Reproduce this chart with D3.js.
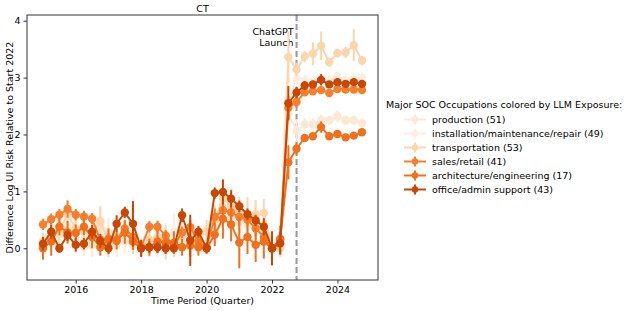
<!DOCTYPE html>
<html>
<head>
<meta charset="utf-8">
<script src="https://cdn.jsdelivr.net/npm/d3@7"></script>
<style>
  body { margin: 0; background: #fff; }
  text { font-family: "DejaVu Sans", sans-serif; fill: #000; }
</style>
</head>
<body>
<div id="chart"></div>
<script>
// quarters (decimal years)
var quarters = [2015, 2015.25, 2015.5, 2015.75, 2016, 2016.25, 2016.5, 2016.75,
  2017, 2017.25, 2017.5, 2017.75, 2018, 2018.25, 2018.5, 2018.75,
  2019, 2019.25, 2019.5, 2019.75, 2020, 2020.25, 2020.5, 2020.75,
  2021, 2021.25, 2021.5, 2021.75, 2022, 2022.25, 2022.5, 2022.75,
  2023, 2023.25, 2023.5, 2023.75, 2024, 2024.25, 2024.5, 2024.75]

var seriesNames = ["production (51)", "installation/maintenance/repair (49)", "transportation (53)",
  "sales/retail (41)", "architecture/engineering (17)", "office/admin support (43)"]
var seriesColors = ["#fde8d3", "#feeedf", "#fdd5ab", "#f67e2c", "#f2701c", "#c94603"]

var production = [0.0, 0.3, 0.25, 0.38, 0.3, 0.02, 0.05, 0.45, 0.28, 0.05, 0.12, 0.05, 0.0, 0.05, 0.1, 0.12,
  0.05, 0.15, 0.05, 0.1, 0.0, 0.3, 0.75, 0.55, 0.45, 0.5, 0.45, 0.3, 0.0, 0.0,
  2.37, 2.07, 2.18, 2.18, 2.25, 2.25, 2.32, 2.25, 2.25, 2.2]
var productionErr = [0.15, 0.25, 0.2, 0.2, 0.2, 0.15, 0.2, 0.3, 0.25, 0.2, 0.2, 0.15, 0.1, 0.2, 0.2, 0.25,
  0.2, 0.2, 0.2, 0.2, 0.1, 0.25, 0.3, 0.35, 0.3, 0.3, 0.3, 0.25, 0.15, 0.15,
  0.3, 0.2, 0.1, 0.1, 0.1, 0.08, 0.1, 0.08, 0.08, 0.08]

var installation = [0.1, 0.15, 0.4, 0.2, 0.1, 0.25, 0.15, 0.3, 0.05, 0.1, 0.2, 0.3, 0.0, 0.1, 0.05, 0.2,
  0.3, 0.1, 0.2, 0.15, 0.0, 0.4, 0.9, 0.7, 0.5, 0.4, 0.55, 0.4, 0.0, 0.05,
  2.6, 2.98, 2.95, 2.93, 2.98, 2.95, 3.02, 2.95, 2.97, 3.0]
var installationErr = [0.2, 0.2, 0.25, 0.2, 0.2, 0.25, 0.2, 0.3, 0.2, 0.2, 0.25, 0.3, 0.15, 0.2, 0.2, 0.25,
  0.3, 0.2, 0.2, 0.2, 0.1, 0.3, 0.3, 0.35, 0.3, 0.3, 0.3, 0.3, 0.2, 0.2,
  0.4, 0.12, 0.1, 0.1, 0.1, 0.1, 0.1, 0.1, 0.1, 0.1]

var transportation = [0.12, 0.22, 0.3, 0.6, 0.35, 0.32, 0.25, 0.48, 0.1, 0.2, 0.3, 0.1, 0.02, 0.15, 0.2, 0.1,
  0.05, 0.22, 0.3, 0.2, 0.3, 0.5, 0.88, 0.75, 0.6, 0.55, 0.6, 0.62, 0.0, 0.0,
  3.36, 3.14, 3.37, 3.42, 3.56, 3.27, 3.43, 3.44, 3.57, 3.30]
var transportationErr = [0.15, 0.2, 0.2, 0.25, 0.2, 0.2, 0.2, 0.25, 0.25, 0.2, 0.2, 0.2, 0.1, 0.25, 0.3, 0.3,
  0.2, 0.2, 0.2, 0.2, 0.2, 0.25, 0.25, 0.3, 0.3, 0.35, 0.25, 0.25, 0.15, 0.15,
  0.45, 0.12, 0.1, 0.2, 0.25, 0.08, 0.08, 0.1, 0.28, 0.08]

var salesRetail = [0.42, 0.51, 0.59, 0.69, 0.59, 0.56, 0.52, 0.15, 0.17, 0.15, 0.35, 0.2, 0.02, 0.38, 0.38, 0.22,
  0.05, 0.28, 0.37, 0.12, 0.02, 0.55, 0.67, 0.63, 0.55, 0.5, 0.35, 0.2, 0.0, 0.17,
  2.47, 2.57, 2.74, 2.76, 2.78, 2.73, 2.8, 2.79, 2.79, 2.78]
var salesRetailErr = [0.1, 0.1, 0.1, 0.15, 0.1, 0.1, 0.1, 0.1, 0.1, 0.1, 0.15, 0.1, 0.1, 0.1, 0.1, 0.1,
  0.1, 0.1, 0.12, 0.1, 0.08, 0.15, 0.15, 0.15, 0.15, 0.12, 0.15, 0.15, 0.1, 0.12,
  0.2, 0.1, 0.06, 0.06, 0.06, 0.06, 0.06, 0.06, 0.06, 0.06]

var architecture = [0.0, 0.12, 0.38, 0.28, 0.27, 0.38, 0.2, 0.02, 0.15, 0.13, 0.28, 0.12, 0.0, 0.02, 0.12, 0.1,
  0.1, 0.02, 0.05, 0.02, 0.0, 0.24, 0.52, 0.42, 0.1, 0.2, 0.06, 0.12, 0.0, 0.15,
  1.51, 1.75, 1.94, 1.97, 2.13, 1.97, 2.01, 1.95, 1.98, 2.04]
var architectureErr = [0.2, 0.25, 0.15, 0.2, 0.15, 0.15, 0.2, 0.15, 0.2, 0.15, 0.2, 0.15, 0.15, 0.15, 0.2, 0.2,
  0.2, 0.15, 0.2, 0.15, 0.1, 0.2, 0.35, 0.3, 0.45, 0.3, 0.3, 0.3, 0.2, 0.25,
  0.3, 0.1, 0.06, 0.06, 0.1, 0.06, 0.06, 0.06, 0.06, 0.06]

var officeAdmin = [0.08, 0.29, 0.0, 0.23, 0.06, 0.08, 0.29, 0.13, 0.0, 0.43, 0.63, 0.43, 0.0, 0.02, 0.02, 0.0,
  0.0, 0.58, 0.14, 0.29, 0.0, 0.97, 0.99, 0.87, 0.74, 0.6, 0.49, 0.38, 0.0, 0.09,
  2.55, 2.74, 2.86, 2.88, 2.96, 2.88, 2.92, 2.89, 2.92, 2.89]
var officeAdminErr = [0.12, 0.12, 0.08, 0.1, 0.12, 0.1, 0.12, 0.12, 0.1, 0.15, 0.1, 0.4, 0.15, 0.1, 0.1, 0.1,
  0.08, 0.12, 0.45, 0.1, 0.08, 0.1, 0.22, 0.15, 0.1, 0.1, 0.1, 0.15, 0.3, 0.2,
  0.3, 0.1, 0.08, 0.06, 0.1, 0.06, 0.06, 0.06, 0.06, 0.06]

var xTicks = [2016, 2018, 2020, 2022, 2024]
var yTicks = [0, 1, 2, 3, 4]
var launchDate = 2022.75

var allValues = [production, installation, transportation, salesRetail, architecture, officeAdmin]
var allErrors = [productionErr, installationErr, transportationErr, salesRetailErr, architectureErr, officeAdminErr]

var W = 634, H = 311
var margin = { top: 15, left: 27, right: 256, bottom: 31 }
var width = W - margin.left - margin.right
var height = H - margin.top - margin.bottom

var svg = d3.select("#chart").append("svg")
  .attr("width", W)
  .attr("height", H)

var g = svg.append("g")
  .attr("transform", "translate(" + margin.left + "," + margin.top + ")")

var x = d3.scaleLinear().domain([2014.51, 2025.24]).range([0, width])
var y = d3.scaleLinear().domain([-0.557, 4.1]).range([height, 0])

// launch line
g.append("line")
  .attr("x1", x(launchDate)).attr("x2", x(launchDate))
  .attr("y1", 0).attr("y2", height)
  .attr("stroke", "#999")
  .attr("stroke-width", 2)
  .attr("stroke-dasharray", "6,3")

var launchText = g.append("text")
  .attr("text-anchor", "end")
  .style("font-size", "9.5px")
launchText.append("tspan").attr("x", x(launchDate) - 3).attr("y", 20).text("ChatGPT")
launchText.append("tspan").attr("x", x(launchDate) - 3).attr("y", 31).text("Launch")

var line = d3.line()
  .x(function(d) { return x(d[0]) })
  .y(function(d) { return y(d[1]) })

for (var s = 0; s < allValues.length; s++) {
  var pts = quarters.map(function(q, i) { return [q, allValues[s][i], allErrors[s][i]] })
  var sg = g.append("g").attr("class", "series")
  var col = seriesColors[s]

  sg.selectAll(".err")
    .data(pts)
    .enter().append("line")
    .attr("class", "err")
    .attr("x1", function(d) { return x(d[0]) })
    .attr("x2", function(d) { return x(d[0]) })
    .attr("y1", function(d) { return y(d[1] - d[2]) })
    .attr("y2", function(d) { return y(d[1] + d[2]) })
    .attr("stroke", col)
    .attr("stroke-width", 2)

  sg.append("path")
    .datum(pts)
    .attr("d", line)
    .attr("fill", "none")
    .attr("stroke", col)
    .attr("stroke-width", 2)

  sg.selectAll(".dot")
    .data(pts)
    .enter().append("circle")
    .attr("class", "dot")
    .attr("cx", function(d) { return x(d[0]) })
    .attr("cy", function(d) { return y(d[1]) })
    .attr("r", 4.2)
    .attr("fill", col)
}

// frame
g.append("rect")
  .attr("width", width).attr("height", height)
  .attr("fill", "none")
  .attr("stroke", "#333")
  .attr("stroke-width", 1)

var xAxis = g.append("g")
  .attr("transform", "translate(0," + height + ")")
  .call(d3.axisBottom(x).tickValues(xTicks).tickFormat(d3.format("d")).tickSize(3.5).tickPadding(3))
var yAxis = g.append("g")
  .call(d3.axisLeft(y).tickValues(yTicks).tickFormat(d3.format("d")).tickSize(3.5).tickPadding(3))
xAxis.select(".domain").remove()
yAxis.select(".domain").remove()
g.selectAll(".tick line").attr("stroke", "#333")
g.selectAll(".tick text").style("font-size", "9.5px").style("font-family", "DejaVu Sans")

svg.append("text")
  .attr("x", margin.left + width / 2).attr("y", 12)
  .attr("text-anchor", "middle")
  .style("font-size", "9.5px")
  .text("CT")

svg.append("text")
  .attr("x", margin.left + width / 2).attr("y", 304)
  .attr("text-anchor", "middle")
  .style("font-size", "9.5px")
  .text("Time Period (Quarter)")

svg.append("text")
  .attr("transform", "translate(13," + (margin.top + height / 2) + ") rotate(-90)")
  .attr("text-anchor", "middle")
  .style("font-size", "9.5px")
  .text("Difference Log UI Risk Relative to Start 2022")

// legend
var legend = svg.append("g").attr("transform", "translate(386,0)")
legend.append("text")
  .attr("x", 0).attr("y", 108)
  .style("font-size", "9.5px")
  .text("Major SOC Occupations colored by LLM Exposure:")

var items = legend.selectAll(".item")
  .data(seriesNames)
  .enter().append("g")
  .attr("class", "item")
  .attr("transform", function(d, i) { return "translate(0," + (119.5 + i * 14) + ")" })

items.append("line")
  .attr("x1", 18).attr("x2", 40).attr("y1", 0).attr("y2", 0)
  .attr("stroke", function(d, i) { return seriesColors[i] })
  .attr("stroke-width", 2)
items.append("line")
  .attr("x1", 29).attr("x2", 29).attr("y1", -5).attr("y2", 5)
  .attr("stroke", function(d, i) { return seriesColors[i] })
  .attr("stroke-width", 2)
items.append("circle")
  .attr("cx", 29).attr("cy", 0).attr("r", 3.2)
  .attr("fill", function(d, i) { return seriesColors[i] })
items.append("text")
  .attr("x", 46).attr("y", 3.5)
  .style("font-size", "9.5px")
  .text(function(d) { return d })
</script>
</body>
</html>
